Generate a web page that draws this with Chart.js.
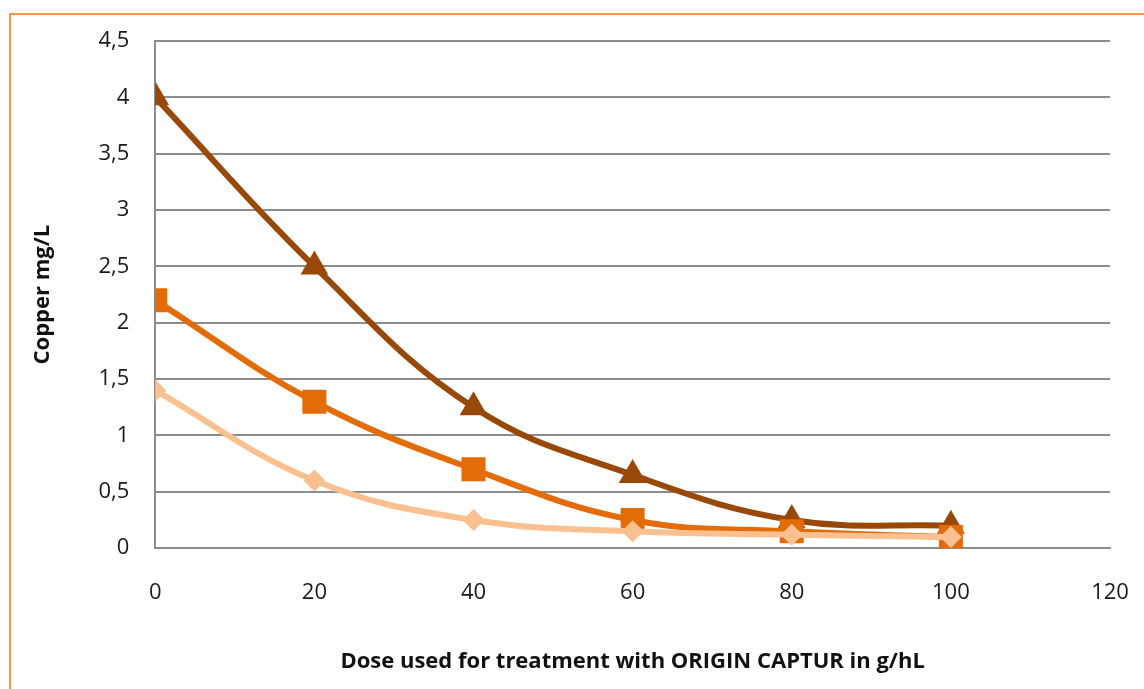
<!DOCTYPE html>
<html>
<head>
<meta charset="utf-8">
<script src="https://cdn.jsdelivr.net/npm/chart.js@4/dist/chart.umd.min.js"></script>
<style>
  html, body { margin: 0; padding: 0; background: #fff; overflow: hidden; }
  #wrap { position: relative; width: 1144px; height: 689px; }
  #frame { position: absolute; left: 9px; top: 13px; width: 1200px; height: 760px;
           border: 2px solid #f79646; box-sizing: border-box; pointer-events: none; }
  canvas { position: absolute; left: 0; top: 0; }
</style>
</head>
<body>
<div id="wrap">
  <canvas id="chart" width="1144" height="689"></canvas>
  <div id="frame"></div>
</div>
<script>
var doses = [0, 20, 40, 60, 80, 100];
var highCopper = [4, 2.5, 1.25, 0.65, 0.25, 0.2];
var midCopper = [2.2, 1.3, 0.7, 0.25, 0.15, 0.1];
var lowCopper = [1.4, 0.6, 0.25, 0.15, 0.12, 0.1];
var xTicks = [0, 20, 40, 60, 80, 100, 120];
var yTicks = [0, 0.5, 1, 1.5, 2, 2.5, 3, 3.5, 4, 4.5];

function toPoints(vals) {
  return vals.map(function(v, i) { return { x: doses[i], y: v }; });
}

function makeSeries(label, vals, color, style, radius) {
  return {
    label: label,
    data: toPoints(vals),
    borderColor: color,
    backgroundColor: color,
    borderWidth: 6,
    pointStyle: style,
    pointRadius: radius,
    pointBorderWidth: 0,
    tension: 0.4,
    fill: false
  };
}

var font = "'Open Sans', 'DejaVu Sans', sans-serif";

new Chart(document.getElementById('chart'), {
  type: 'line',
  data: {
    datasets: [
      makeSeries('low', lowCopper, '#fac090', 'rectRot', 11),
      makeSeries('mid', midCopper, '#e36c09', 'rect', 17),
      makeSeries('high', highCopper, '#984807', 'triangle', 16)
    ]
  },
  options: {
    responsive: false,
    animation: false,
    devicePixelRatio: 1,
    layout: { autoPadding: false, padding: { left: 26, right: 34, top: 41, bottom: 14 } },
    plugins: { legend: { display: false }, tooltip: { enabled: false } },
    scales: {
      x: {
        type: 'linear',
        min: 0, max: 120,
        afterBuildTicks: function(axis) { axis.ticks = xTicks.map(function(v) { return { value: v }; }); },
        // let the layout padding alone decide the right edge of the plot
        afterFit: function(axis) { axis.paddingRight = 0; },
        grid: { display: false },
        border: { display: true, color: '#8c8c8c', width: 2 },
        ticks: { color: '#1a1a1a', font: { family: font, size: 22 }, padding: 23, maxRotation: 0 },
        title: { display: true, text: 'Dose used for treatment with ORIGIN CAPTUR in g/hL',
                 color: '#111', font: { family: font, size: 22, weight: 'bold' }, padding: { top: 20, bottom: 0 } }
      },
      y: {
        min: 0, max: 4.5,
        afterBuildTicks: function(axis) { axis.ticks = yTicks.map(function(v) { return { value: v }; }); },
        grid: { color: '#8c8c8c', lineWidth: 2, drawTicks: false },
        border: { display: true, color: '#8c8c8c', width: 2 },
        ticks: {
          color: '#1a1a1a', font: { family: font, size: 22 }, padding: 26,
          callback: function(v) { return String(v).replace('.', ','); }
        },
        title: { display: true, text: 'Copper mg/L', color: '#111',
                 font: { family: font, size: 22, weight: 'bold' }, padding: { bottom: 16 } }
      }
    }
  }
});
</script>
</body>
</html>
